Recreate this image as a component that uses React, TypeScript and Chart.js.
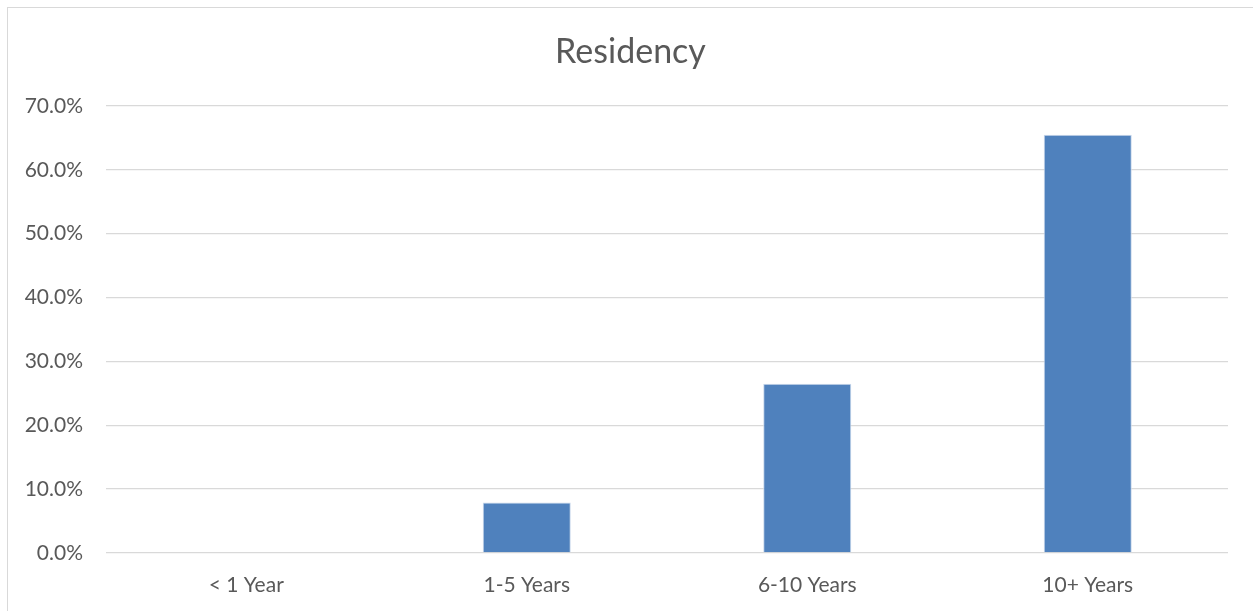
import React, { useEffect, useRef } from "react";
import { Chart, registerables } from "chart.js";

Chart.register(...registerables);

const categories = ["< 1 Year", "1-5 Years", "6-10 Years", "10+ Years"];
const residencyValues = [0, 0.079, 0.265, 0.655];
const chartTitle = "Residency";

export default function App() {
  const canvasRef = useRef<HTMLCanvasElement | null>(null);

  useEffect(() => {
    if (!canvasRef.current) return;
    const chart = new Chart(canvasRef.current, {
      type: "bar",
      data: {
        labels: categories,
        datasets: [
          {
            label: chartTitle,
            data: residencyValues,
            backgroundColor: "#4F81BD",
            borderColor: "#C9D8EC",
            borderWidth: 1,
            categoryPercentage: 1,
            barPercentage: 0.314,
            yAxisID: "y",
          },
        ],
      },
      options: {
        animation: false,
        responsive: false,
        maintainAspectRatio: false,
        layout: { padding: { left: 0, right: 0, top: 0, bottom: 0 } },
        plugins: {
          legend: { display: false },
          tooltip: { enabled: false },
          title: {
            display: true,
            text: chartTitle,
            color: "#595959",
            font: { family: "Lato", size: 34, weight: "normal" },
            padding: { top: 24, bottom: 33.2 },
          },
        },
        scales: {
          x: {
            grid: { display: false, drawTicks: false },
            border: { display: false },
            ticks: {
              color: "#595959",
              font: { family: "Lato", size: 21 },
              padding: 20,
              maxRotation: 0,
            },
            afterFit: (scale: any) => {
              scale.height = 58;
            },
          },
          y: {
            min: 0,
            max: 0.7,
            grid: { color: "#D9D9D9", lineWidth: 1.3, drawTicks: false },
            border: { display: false },
            ticks: {
              stepSize: 0.1,
              color: "#595959",
              font: { family: "Lato", size: 21 },
              padding: 23,
              callback: (v: any) => (Number(v) * 100).toFixed(1) + "%",
            },
            afterFit: (scale: any) => {
              scale.width = 98;
            },
          },
          spacer: {
            type: "linear",
            position: "right",
            min: 0,
            max: 1,
            grid: { display: false, drawTicks: false },
            border: { display: false },
            ticks: { display: false },
            afterFit: (scale: any) => {
              scale.width = 25;
            },
          },
        },
      },
    });
    return () => chart.destroy();
  }, []);

  return (
    <div
      style={{
        position: "fixed",
        left: 7,
        top: 7,
        width: 1246,
        height: 604,
        borderLeft: "1px solid #D9D9D9",
        borderTop: "1px solid #D9D9D9",
        background: "#fff",
      }}
    >
      <canvas ref={canvasRef} width={1245} height={603} style={{ display: "block" }} />
    </div>
  );
}
